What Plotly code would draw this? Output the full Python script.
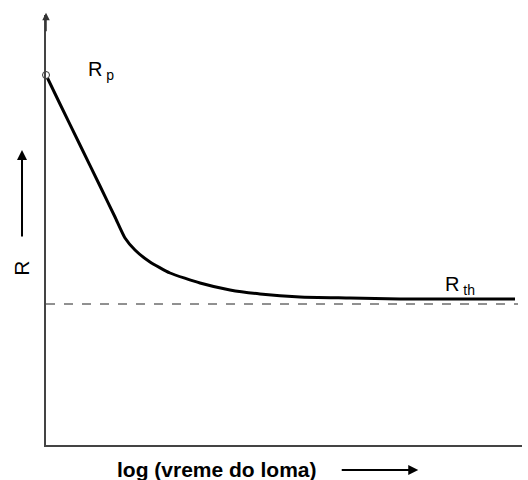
import plotly.graph_objects as go

# curve values (x: log time units, y: R units)
curve_x = [0, 14, 34, 54, 69, 79, 89, 104, 124, 154, 184, 214, 254, 304, 354, 404, 469]
curve_y = [370, 341, 300, 259, 228, 207, 195, 183, 172, 162, 155, 151, 148, 147, 146, 146, 146]
rth_level = 141
dash_x = [0, 472]
x_range = [0, 476]
y_range = [0, 430]

fig = go.Figure()
fig.add_trace(go.Scatter(x=dash_x, y=[rth_level, rth_level], mode="lines",
                         line=dict(color="#222", width=1, dash="dash"), hoverinfo="skip"))
fig.add_trace(go.Scatter(x=curve_x, y=curve_y, mode="lines",
                         line=dict(color="black", width=3, shape="spline", smoothing=0.5), hoverinfo="skip"))
fig.add_trace(go.Scatter(x=[curve_x[0]], y=[curve_y[0]], mode="markers",
                         marker=dict(color="white", size=7, line=dict(color="#333", width=1)),
                         hoverinfo="skip", cliponaxis=False))

fam = "Liberation Sans, Arial, sans-serif"
ann = []
# y axis arrow head
ann.append(dict(x=0, y=1.005, ax=0, ay=20, xref="paper", yref="paper",
                showarrow=True, arrowhead=2, arrowsize=1, arrowwidth=1.5, arrowcolor="#333", text=""))
# R label with arrow
ann.append(dict(x=-0.0504, y=0.686, ax=0, ay=88, xref="paper", yref="paper",
                showarrow=True, arrowhead=2, arrowsize=1, arrowwidth=2, arrowcolor="black", text=""))
ann.append(dict(x=-0.0504, y=0.41, xref="paper", yref="paper", text="R", showarrow=False, textangle=-90,
                yanchor="middle", xanchor="center",
                font=dict(size=21, family=fam, color="black")))
# x label
ann.append(dict(x=0.359, y=-0.058, xref="paper", yref="paper", text="<b>log (vreme do loma)</b>", showarrow=False,
                yanchor="middle", xanchor="center",
                font=dict(size=21, family=fam, color="black")))
ann.append(dict(x=0.782, y=-0.058, ax=-78, ay=0, xref="paper", yref="paper",
                showarrow=True, arrowhead=2, arrowsize=1, arrowwidth=2, arrowcolor="black", text=""))
# Rp, Rth labels
ann.append(dict(x=55, y=375, xref="x", yref="y", text="R<sub> p</sub>", showarrow=False,
                font=dict(size=20, family=fam, color="black")))
ann.append(dict(x=414, y=160, xref="x", yref="y", text="R<sub> th</sub>", showarrow=False,
                font=dict(size=20, family=fam, color="black")))

fig.update_layout(
    width=528, height=480, margin=dict(l=46, r=6, t=15, b=35),
    plot_bgcolor="white", paper_bgcolor="white", showlegend=False,
    annotations=ann,
    xaxis=dict(range=x_range, showgrid=False, zeroline=False, showticklabels=False, ticks="",
               showline=True, linecolor="#444", linewidth=1.5),
    yaxis=dict(range=y_range, showgrid=False, zeroline=False, showticklabels=False, ticks="",
               showline=True, linecolor="#444", linewidth=1.5),
)
fig.write_html("out.html")
